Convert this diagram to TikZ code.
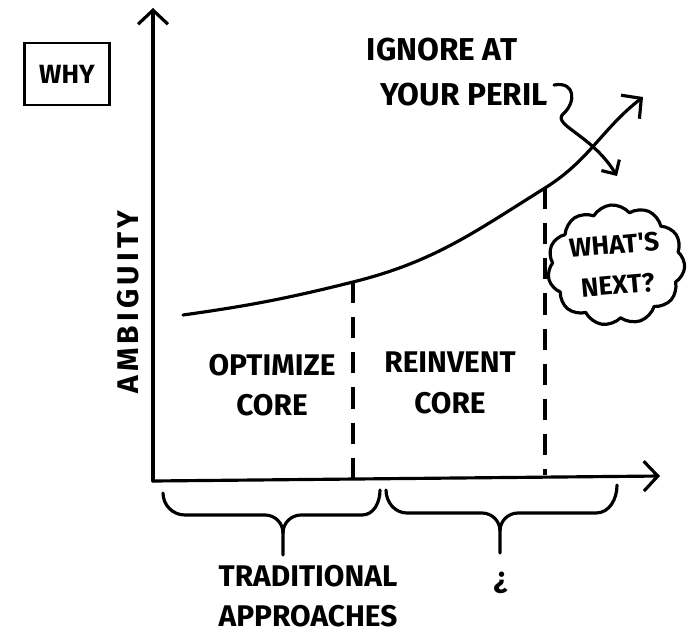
\documentclass[tikz,border=0pt]{standalone}
\usepackage{fontspec}
\newfontfamily\handfont{Fira Sans}
\usetikzlibrary{arrows.meta,shapes.symbols,positioning}

\begin{document}
\begin{tikzpicture}[x=0.02cm,y=0.02cm,
        pen/.style={line width=1.8pt,line cap=round,line join=round},
        axis/.style={pen,-{Straight Barb[length=8pt,width=17pt]}},
        guide/.style={pen,line cap=butt,dash pattern=on 12pt off 8pt},
        brace/.style={pen},
        note/.style={font=\handfont\bfseries\fontsize{17}{21}\selectfont,align=center}
    ]
    \useasboundingbox (0,0) rectangle (688,633);

    % --- Axes ---
    \coordinate (O) at (153,152);
    \coordinate (ytop) at (153,625);
    \coordinate (xend) at (660,157);
    \draw[axis] (O) -- (ytop);
    \draw[axis] (O) -- (xend);
    \node[note,rotate=90] (amb) at (128,331) {\addfontfeature{LetterSpace=14}AMBIGUITY};

    % --- WHY box ---
    \node[draw,line width=1.4pt,minimum width=1.7cm,minimum height=1.24cm,
          font=\handfont\bfseries\fontsize{15}{17}\selectfont] (why) at (67,559) {WHY};

    % --- Ambiguity curve ---
    \coordinate (c0) at (183,318);
    \coordinate (m1) at (353,351);
    \coordinate (m2) at (545,445);
    \coordinate (tip) at (643,536);
    \draw[axis] (c0) to[out=8,in=194] (m1) to[out=14,in=212] (m2) to[out=32,in=218] (tip);

    % --- Phase boundaries ---
    \coordinate (b1) at (353,155);
    \coordinate (b2) at (545,158);
    \draw[guide] (m1) -- (b1);
    \draw[guide] (m2) -- (b2);
    \node[note] (opt) at (272,248) {OPTIMIZE\\[2pt]CORE};
    \node[note] (reinv) at (450,250) {REINVENT\\[2pt]CORE};

    % --- Warning ---
    \node[note,font=\handfont\bfseries\fontsize{18}{22}\selectfont] (ignore) at (442,561) {IGNORE AT\\[4pt]\hspace*{1.4em}YOUR PERIL};
    \coordinate (sq0) at (554,548);
    \coordinate (sq1) at (617,457);
    \draw[pen,-{Straight Barb[length=6pt,width=12pt]}] (sq0) .. controls (576,552) and (576,530) .. (563,519)
        .. controls (552,508) and (592,498) .. (sq1);

    % --- Next ---
    \node[cloud,draw,pen,cloud puffs=11,cloud puff arc=110,aspect=1.2,rotate=5,
          minimum width=2.25cm,minimum height=2.0cm,inner sep=0pt,
          note,font=\handfont\bfseries\fontsize{15}{18}\selectfont] (next) at (616,368) {WHAT'S\\[5pt]NEXT?};

    % --- Braces ---
    \draw[brace] (163,140) to[out=-90,in=180] (185,118) -- (265,118) to[out=0,in=90] (283,100) -- (283,78);
    \draw[brace] (283,100) to[out=90,in=180] (301,118) -- (362,118) to[out=0,in=-90] (380,143);
    \draw[brace] (386,143) to[out=-90,in=180] (407,120) -- (482,120) to[out=0,in=90] (500,102) -- (500,80);
    \draw[brace] (500,102) to[out=90,in=180] (518,120) -- (596,120) to[out=0,in=-90] (617,148);
    \node[note] (trad) at (308,37) {TRADITIONAL\\[2pt]APPROACHES};
    \node[note,rotate=180] (unk) at (501,50) {?};

\end{tikzpicture}
\end{document}
